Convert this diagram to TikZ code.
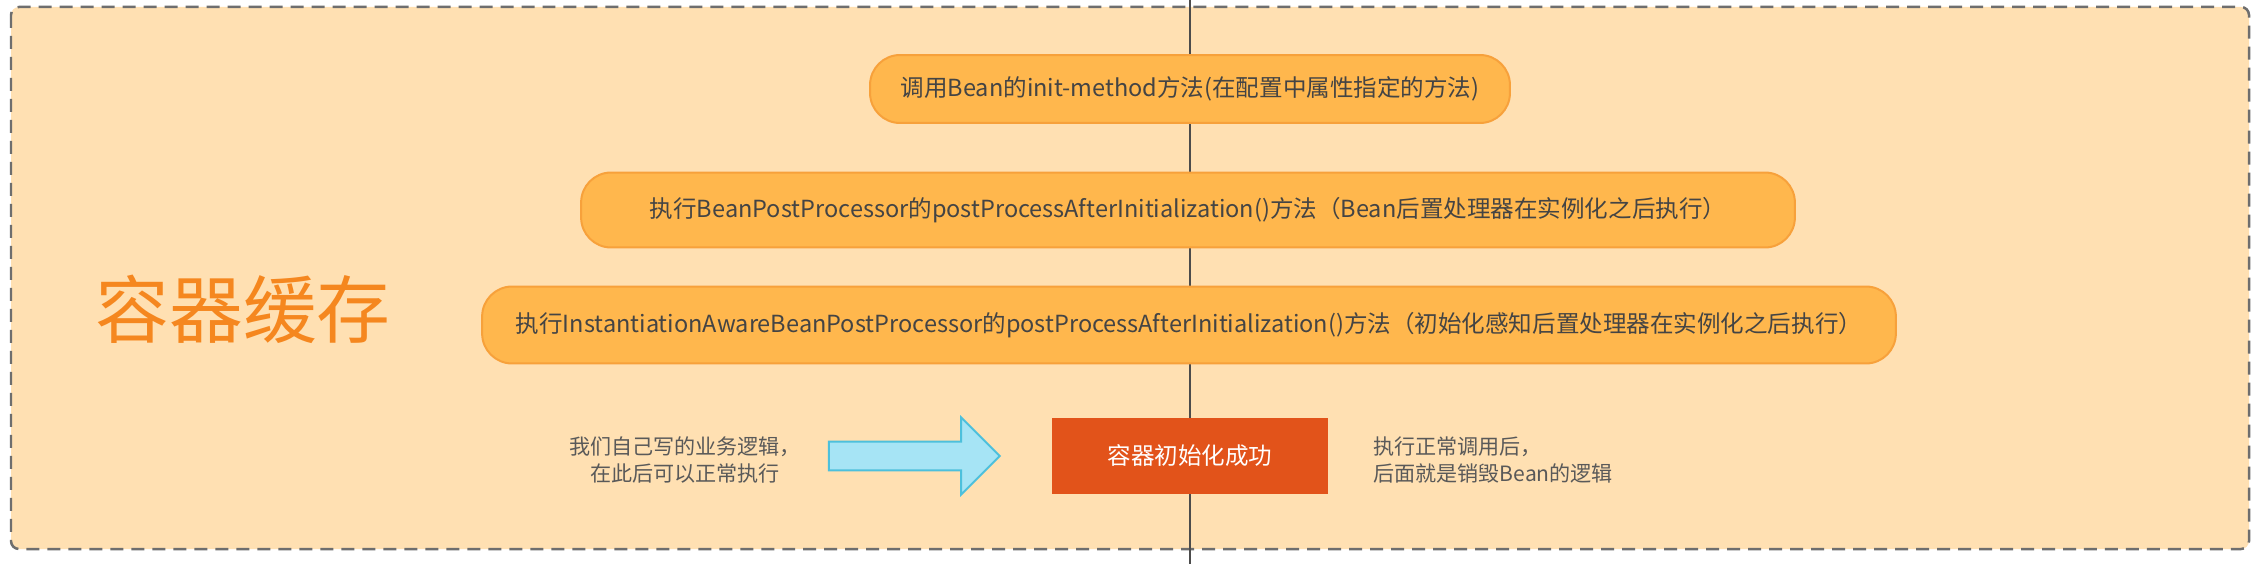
\documentclass[tikz,border=0pt]{standalone}
\usepackage{fontspec}
\setmainfont{Noto Sans CJK SC}
\usetikzlibrary{positioning,shapes,shapes.arrows}
\definecolor{peach}{HTML}{FFE0B2}
\definecolor{pillfill}{HTML}{FFB74D}
\definecolor{pillline}{HTML}{F7A13B}
\definecolor{pilltext}{HTML}{444444}
\definecolor{titleorange}{HTML}{F5871F}
\definecolor{okred}{HTML}{E2531A}
\definecolor{arrowfill}{HTML}{A6E4F5}
\definecolor{arrowline}{HTML}{4DC0DC}
\definecolor{notegray}{HTML}{595959}
\definecolor{framegray}{HTML}{6E6E6E}
\tikzset{
  pill/.style={draw=pillline,line width=0.04cm,fill=pillfill,rounded corners=0.6cm,
    text=pilltext,font=\fontsize{13.4}{16}\selectfont,inner sep=0pt},
  note/.style={text=notegray,font=\fontsize{12}{15.4}\selectfont,inner sep=0pt},
}

\begin{document}
\begin{tikzpicture}[x=0.02cm,y=-0.02cm]

\useasboundingbox (0,0) rectangle (2262,564);
\fill[white] (0,0) rectangle (2262,564);
\draw[framegray,fill=peach,line width=0.05cm,rounded corners=0.16cm,
  dash pattern=on 0.26cm off 0.16cm] (11,7) rectangle (2249,549);

% middle line, behind the steps
\coordinate (top) at (1190,0);
\coordinate (bottom) at (1190,564);
\draw[color=black!70,line width=0.035cm] (top) -- (bottom);

\node [pill,minimum width=12.8cm,minimum height=1.36cm] (init) at (1190,89)
  {调用Bean的init-method方法(在配置中属性指定的方法)};
\node [pill,minimum width=24.28cm,minimum height=1.5cm] (bpp) at (1188,210)
  {执行BeanPostProcessor的postProcessAfterInitialization()方法（Bean后置处理器在实例化之后执行）};
\node [pill,minimum width=28.28cm,minimum height=1.54cm] (iabpp) at (1189,325)
  {执行InstantiationAwareBeanPostProcessor的postProcessAfterInitialization()方法（初始化感知后置处理器在实例化之后执行）};

\node [text=titleorange,font=\fontsize{42}{48}\selectfont,inner sep=0pt] (cache) at (243,309) {容器缓存};

\node [fill=okred,text=white,font=\fontsize{13.4}{16}\selectfont,
  minimum width=5.52cm,minimum height=1.54cm] (done) at (1190,456) {容器初始化成功};

\node [single arrow,draw=arrowline,fill=arrowfill,line width=0.04cm,inner xsep=0pt,
  inner ysep=0.27cm,single arrow head extend=0.48cm,minimum height=3.42cm] (flow) at (907,456) {};

\node [note,align=center] (biz) at (685,460) {我们自己写的业务逻辑，\\在此后可以正常执行};
\node [note,align=left,anchor=west] (destroy) at (1373,460) {执行正常调用后，\\后面就是销毁Bean的逻辑};

\end{tikzpicture}
\end{document}
